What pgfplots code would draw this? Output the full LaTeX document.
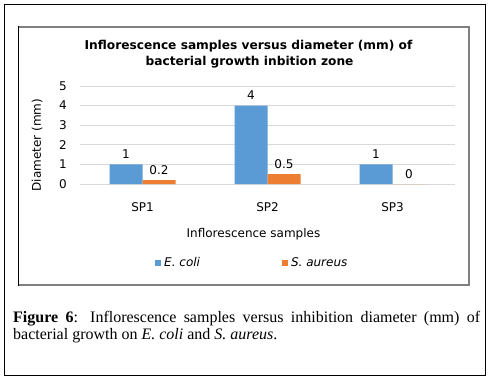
\documentclass[border=0pt]{standalone}
\usepackage{fontspec}
\setmainfont{DejaVu Sans}
\newfontfamily\capfont{Liberation Serif}
\usepackage{pgfplots}
\pgfplotsset{compat=1.18}
\definecolor{ecoli}{HTML}{5B9BD5}
\definecolor{saureus}{HTML}{ED7D31}
\definecolor{gridgray}{HTML}{D9D9D9}
\definecolor{framegray}{HTML}{808080}
\newcommand\chartfont{\fontsize{12}{14}\selectfont}
\newcommand\titlefont{\fontsize{12.2}{14}\selectfont\bfseries}
\newcommand\captionfont{\capfont\fontsize{16}{17}\selectfont}
\pgfplotsset{ybar legend/.style={/pgfplots/legend image code/.code={\fill[##1] (0pt,-3pt) rectangle (6pt,3pt);}}}
\begin{document}
\begin{tikzpicture}
\path[fill=white, use as bounding box] (0pt,0pt) rectangle (490pt,378pt);
\draw[line width=1pt] (4.5pt,3pt) rectangle (485.5pt,373pt);
\draw[framegray, line width=1.2pt] (18pt,351pt) -- (469pt,351pt) -- (469pt,93pt) -- (18pt,93pt);
\draw[line width=1pt] (18pt,351.6pt) -- (18pt,92.4pt);
\node[anchor=base, font=\titlefont] at (248.5pt,328pt) {Inflorescence samples versus diameter (mm) of};
\node[anchor=base, font=\titlefont] at (249.5pt,312pt) {bacterial growth inbition zone};
\begin{axis}[
  at={(80pt,194pt)}, anchor=south west,
  scale only axis, width=375pt, height=98pt,
  xmin=-0.5, xmax=2.5, ymin=0, ymax=5,
  enlargelimits=false,
  xtick={0,1,2}, xticklabels={SP1,SP2,SP3},
  ytick={0,1,2,3,4,5},
  axis line style={draw=none},
  major tick length=0pt, tick style={draw=none},
  ymajorgrids, grid style={gridgray, line width=0.8pt},
  /pgf/number format/assume math mode=true,
  tick label style={font=\chartfont},
  yticklabel style={anchor=east, inner sep=0pt, xshift=-13pt},
  xticklabel style={anchor=base, inner sep=0pt, yshift=-27pt},
  ybar=0pt, bar width=33pt,
  nodes near coords,
  every node near coord/.append style={font=\chartfont, anchor=base, yshift=6pt, inner sep=0pt},
  legend columns=2,
  legend style={draw=none, fill=none, at={(0.2,-0.806)}, anchor=west, inner sep=0pt,
    nodes={inner sep=0pt, font=\chartfont\itshape},
    /tikz/every odd column/.append style={column sep=3pt},
    /tikz/every even column/.append style={column sep=82pt}},
]
\addplot[fill=ecoli, draw=none] coordinates {(0,1) (1,4) (2,1)};
\addplot[fill=saureus, draw=none] coordinates {(0,0.2) (1,0.5) (2,0)};
\legend{E. coli, S. aureus}
\end{axis}
\node[rotate=90, font=\chartfont] at (37pt,233pt) {Diameter (mm)};
\node[anchor=base, font=\chartfont] at (253.5pt,141pt) {Inflorescence samples};
\node[anchor=base west, inner sep=0pt, font=\captionfont] at (13pt,56pt) {\makebox[467pt][s]{\textbf{Figure 6}: Inflorescence samples versus inhibition diameter (mm) of}};
\node[anchor=base west, inner sep=0pt, font=\captionfont] at (13pt,39pt) {bacterial growth on \textit{E. coli} and \textit{S. aureus}.};
\end{tikzpicture}
\end{document}
